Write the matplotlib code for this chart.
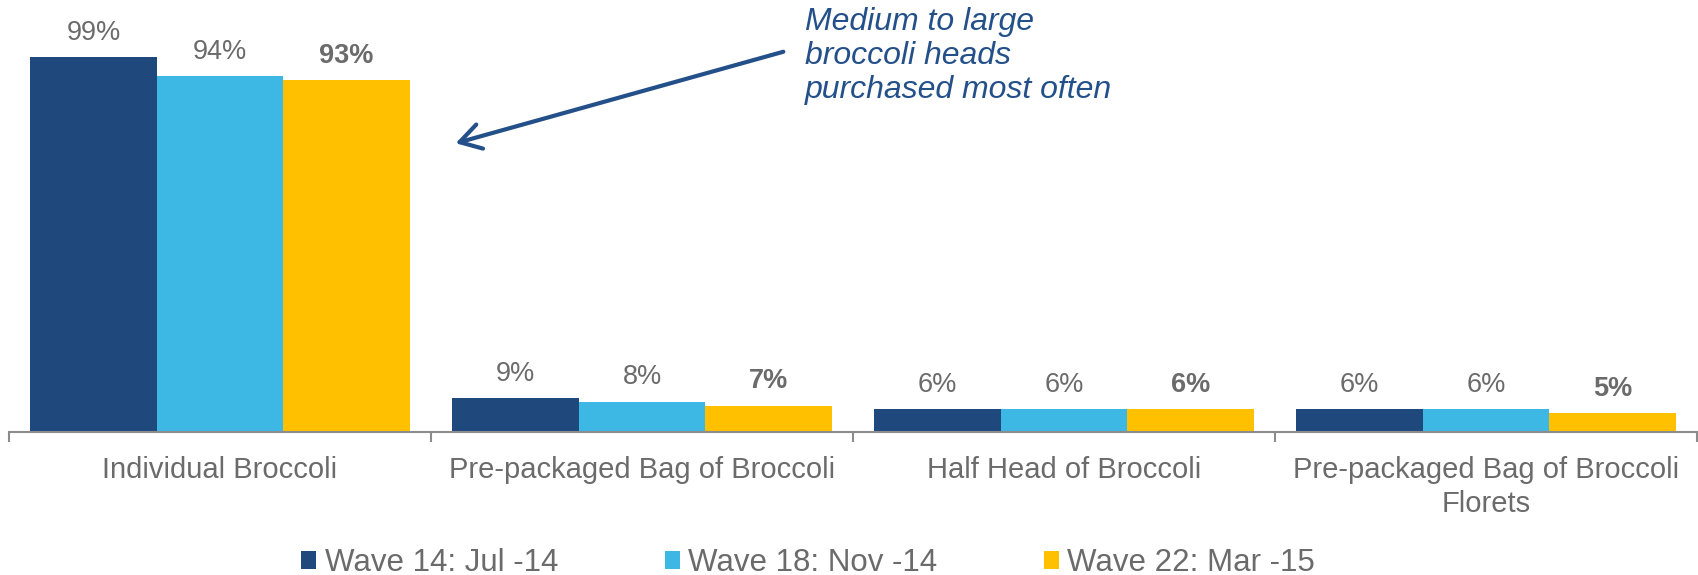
import matplotlib
matplotlib.use("Agg")
import matplotlib.pyplot as plt
import numpy as np
from matplotlib.patches import Patch

plt.rcParams['font.family'] = ['Liberation Sans', 'DejaVu Sans']

categories = ["Individual Broccoli", "Pre-packaged Bag of Broccoli",
              "Half Head of Broccoli", "Pre-packaged Bag of Broccoli\nFlorets"]
series_names = ["Wave 14: Jul -14", "Wave 18: Nov -14", "Wave 22: Mar -15"]
wave14 = [99, 9, 6, 6]
wave18 = [94, 8, 6, 6]
wave22 = [93, 7, 6, 5]
colors = ["#1F497D", "#3DB7E4", "#FFC000"]
annotation = "Medium to large\nbroccoli heads\npurchased most often"

W, H = 1698, 575
fig = plt.figure(figsize=(W / 100, H / 100), dpi=100)
ax = fig.add_axes([9 / W, 143 / H, 1688 / W, 432 / H])

x = np.arange(len(categories))
width = 0.3
text_grey = "#6b6b6b"
for i, (vals, name, col) in enumerate(zip([wave14, wave18, wave22], series_names, colors)):
    pos = x + (i - 1) * width
    ax.bar(pos, vals, width=width, color=col, label=name)
    for px, v in zip(pos, vals):
        ax.annotate(f"{v}%", (px, v), xytext=(0, 17.5), textcoords="offset points",
                    ha="center", va="center", fontsize=19.5, color=text_grey,
                    fontweight="bold" if i == 2 else "normal")

ax.set_xlim(-0.5, len(categories) - 0.5)
ax.set_ylim(0, 114.2)
ax.set_yticks([])
for s in ["top", "right", "left"]:
    ax.spines[s].set_visible(False)
ax.spines["bottom"].set_color("#8c8c8c")
ax.spines["bottom"].set_linewidth(1.5)
ax.set_xticks(x)
ax.set_xticklabels(categories, fontsize=21, color=text_grey)
for t in ax.get_xticklabels():
    t.set_linespacing(1.3)
ax.tick_params(axis="x", which="major", length=0, pad=17)
ax.set_xticks(np.arange(-0.5, len(categories), 1.0), minor=True)
ax.tick_params(axis="x", which="minor", length=7, width=1.5, color="#8c8c8c", direction="out")

handles = [Patch(facecolor=c, edgecolor="none") for c in colors]
leg = fig.legend(handles, series_names, loc="center", bbox_to_anchor=(0.476, 0.021),
                 ncol=3, frameon=False, fontsize=22.5, handlelength=0.48, handleheight=0.48,
                 handletextpad=0.28, columnspacing=3.4, borderpad=0)
for t in leg.get_texts():
    t.set_color(text_grey)

ann_col = "#24508A"
fig.text(805 / W, 1 - 7 / H, annotation, ha="left", va="top", fontsize=23,
         style="italic", color=ann_col, linespacing=1.17)
fig.add_artist(matplotlib.patches.FancyArrowPatch(
    posA=(786, H - 51), posB=(453, H - 144), transform=None,
    arrowstyle="->,head_length=10,head_width=6", color=ann_col, lw=3,
    mutation_scale=1.5))

fig.savefig("out.png", dpi=100)
